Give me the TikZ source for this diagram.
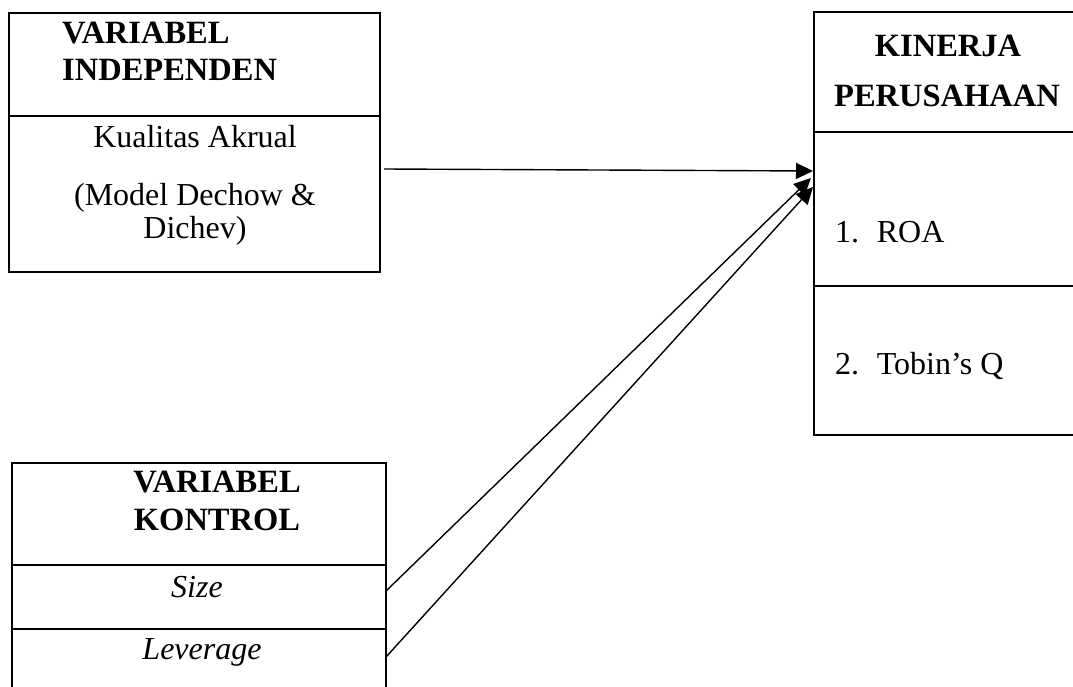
\documentclass[tikz,border=0pt]{standalone}
\usepackage{fontspec}
\setmainfont{Liberation Serif}
\usetikzlibrary{arrows.meta}
\tikzset{
  box/.style={draw=black, line width=1.8pt, inner sep=0pt, outer sep=0pt, anchor=north west},
  divider/.style={draw=black, line width=1.8pt},
  txt/.style={inner sep=0pt, font=\fontsize{32}{38}\selectfont},
  btxt/.style={inner sep=0pt, font=\fontsize{32.5}{38}\selectfont\bfseries},
  conn/.style={draw=black, line width=1.4pt, -{Triangle[length=17pt,width=16pt]}}
}
\begin{document}
\begin{tikzpicture}[x=1pt,y=-1pt]
\useasboundingbox (0,0) rectangle (1073,687);
\clip (0,0) rectangle (1073,687);
% boxes
\node[box, minimum width=371pt, minimum height=259pt] (b1) at (9,13) {};
\node[box, minimum width=266pt, minimum height=423pt] (b2) at (814,12) {};
\node[box, minimum width=374pt, minimum height=260pt] (b3) at (12,463) {};
% dividers
\draw[divider] (b1.west |- 0,116) -- (b1.east |- 0,116);
\draw[divider] (b2.west |- 0,132) -- (b2.east |- 0,132);
\draw[divider] (b2.west |- 0,286) -- (b2.east |- 0,286);
\draw[divider] (b3.west |- 0,565) -- (b3.east |- 0,565);
\draw[divider] (b3.west |- 0,629) -- (b3.east |- 0,629);
% texts box 1
\node[btxt, anchor=base west] (t1a) at (62,44) {VARIABEL};
\node[btxt, anchor=base west] (t1b) at (62,81) {INDEPENDEN};
\node[txt, anchor=base] (t1c) at (195,148) {Kualitas Akrual};
\node[txt, anchor=base] (t1d) at (195,205) {(Model Dechow \&};
\node[txt, anchor=base] (t1e) at (195,238) {Dichev)};
% texts box 2
\node[btxt, anchor=base] (t2a) at (948,57) {KINERJA};
\node[btxt, anchor=base] (t2b) at (947,107) {PERUSAHAAN};
\node[txt, anchor=base west] (t2c) at (835,242) {1.\hspace{0.55em}ROA};
\node[txt, anchor=base west] (t2d) at (835,374) {2.\hspace{0.55em}Tobin’s Q};
% texts box 3
\node[btxt, anchor=base] (t3a) at (217,492) {VARIABEL};
\node[btxt, anchor=base] (t3b) at (217,530) {KONTROL};
\node[txt, anchor=base] (t3c) at (197,597) {\itshape Size};
\node[txt, anchor=base] (t3d) at (202,659) {\itshape Leverage};
% connector endpoints
\coordinate (s1) at (384,169);
\coordinate (e1) at (813,171);
\coordinate (s2) at (386,591);
\coordinate (e2) at (811,178);
\coordinate (s3) at (386,657);
\coordinate (e3) at (813,187);
\draw[conn] (s1) -- (e1);
\draw[conn] (s2) -- (e2);
\draw[conn] (s3) -- (e3);
\end{tikzpicture}
\end{document}
